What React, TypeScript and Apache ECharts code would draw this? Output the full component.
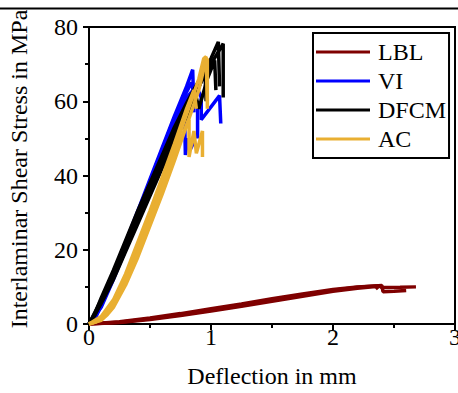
import React, { useEffect, useRef } from "react";
import * as echarts from "echarts";

// ---- Data (deflection in mm, interlaminar shear stress in MPa) ----
const groupNames = ["LBL", "VI", "DFCM", "AC"];
const groupColors = ["#7F0000", "#0000FF", "#000000", "#E9AF32"];

const LBL_1 = [[0,0],[0.25,0.5],[0.5,1.4],[0.75,2.5],[1.0,3.7],[1.25,5.0],[1.5,6.4],[1.75,7.8],[2.0,9.1],[2.2,9.9],[2.4,10.4],[2.41,8.7],[2.5,8.8],[2.6,9.0]];
const LBL_2 = [[0,0],[0.25,0.6],[0.5,1.6],[0.75,2.8],[1.0,4.1],[1.25,5.4],[1.5,6.8],[1.75,8.1],[2.0,9.3],[2.2,10.0],[2.38,10.3],[2.4,9.8],[2.55,9.9],[2.68,10.0]];
const LBL_3 = [[0,0],[0.25,0.4],[0.5,1.2],[0.75,2.3],[1.0,3.5],[1.25,4.8],[1.5,6.1],[1.75,7.5],[2.0,8.8],[2.2,9.6],[2.35,10.1],[2.37,9.4]];

const VI_1 = [[0,0],[0.05,2],[0.1,5.5],[0.2,13.5],[0.3,22],[0.4,30.5],[0.5,39],[0.6,47.5],[0.7,56],[0.8,64],[0.85,68.5],[0.86,57]];
const VI_2 = [[0,0],[0.05,1.5],[0.1,5],[0.2,12.5],[0.3,21],[0.4,29.5],[0.5,38],[0.6,46.5],[0.7,55],[0.78,61.5],[0.79,45.5],[0.81,50],[0.83,47],[0.86,49]];
const VI_3 = [[0,0],[0.1,4.5],[0.2,12],[0.3,20],[0.4,28.5],[0.5,37],[0.6,45.5],[0.7,54],[0.8,61],[0.88,64],[0.92,61],[0.92,55],[1.07,61.5],[1.08,54]];
const VI_4 = [[0,0],[0.1,5],[0.2,13],[0.3,21.5],[0.4,30],[0.5,38.5],[0.6,47],[0.7,55.5],[0.8,62.5],[0.84,65],[0.89,58],[0.89,50]];

const DFCM_1 = [[0,0],[0.05,3],[0.1,7],[0.2,14.5],[0.3,22.5],[0.4,30.5],[0.5,38],[0.6,45.5],[0.7,53],[0.8,59.5],[0.9,65.5],[1.0,71.5],[1.06,76],[1.07,64]];
const DFCM_2 = [[0,0],[0.05,2.5],[0.1,6],[0.2,13],[0.3,20.5],[0.4,28],[0.5,35.5],[0.6,43],[0.7,50.5],[0.8,57.5],[0.9,64],[1.0,70],[1.1,75.5],[1.1,61]];
const DFCM_3 = [[0,0],[0.1,5.5],[0.2,12],[0.3,19.5],[0.4,27],[0.5,34.5],[0.6,42],[0.7,49],[0.8,56],[0.88,61],[0.9,58],[0.97,66],[1.03,71],[1.04,63]];
const DFCM_4 = [[0,0],[0.1,6.5],[0.2,13.5],[0.3,21.5],[0.4,29.5],[0.5,37],[0.6,44.5],[0.7,52],[0.78,58],[0.8,55],[0.88,62],[0.95,68],[0.96,60]];

const AC_1 = [[0,0],[0.05,0.5],[0.1,1.5],[0.15,3.5],[0.2,6],[0.25,9],[0.3,12.5],[0.4,20.5],[0.5,29],[0.6,38],[0.7,47],[0.8,56.5],[0.9,66],[0.94,71.5],[0.96,72],[0.97,60]];
const AC_2 = [[0,0],[0.1,1],[0.15,2.5],[0.2,4.5],[0.25,7.5],[0.3,10.5],[0.4,18],[0.5,26.5],[0.6,35],[0.7,44],[0.8,53.5],[0.9,63],[0.95,70],[0.97,71.5],[0.97,58]];
const AC_3 = [[0,0],[0.1,1.2],[0.2,5],[0.3,11],[0.4,19],[0.5,27.5],[0.6,36.5],[0.7,45.5],[0.78,52],[0.82,55],[0.82,45],[0.86,52],[0.88,46],[0.93,52],[0.93,45]];
const AC_4 = [[0,0],[0.1,2],[0.2,6.5],[0.3,13.5],[0.4,22],[0.5,30.5],[0.6,39.5],[0.7,48.5],[0.8,58],[0.86,63],[0.88,58]];

const groups = [
  [LBL_1, LBL_2, LBL_3],
  [VI_1, VI_2, VI_3, VI_4],
  [DFCM_1, DFCM_2, DFCM_3, DFCM_4],
  [AC_1, AC_2, AC_3, AC_4],
];

const xTicks = { min: 0, max: 3, interval: 1 };
const yTicks = { min: 0, max: 80, interval: 20 };

const FONT = "Liberation Serif";

export default function App() {
  const ref = useRef<HTMLDivElement>(null);
  useEffect(() => {
    if (!ref.current) return;
    const chart = echarts.init(ref.current, null, { renderer: "svg" });
    const series: any[] = [];
    groups.forEach((specs, gi) => {
      specs.forEach((d) => {
        series.push({
          type: "line",
          name: groupNames[gi],
          data: d,
          showSymbol: false,
          symbol: "none",
          lineStyle: { color: groupColors[gi], width: 3.5 },
          itemStyle: { color: groupColors[gi] },
          z: 2 + gi,
        });
      });
    });
    const axisCommon = {
      axisLine: { show: true, lineStyle: { color: "#000", width: 2 } },
      axisTick: { show: true, inside: false, length: 6, lineStyle: { color: "#000", width: 2 } },
      minorTick: { show: true, splitNumber: 2, length: 4, lineStyle: { color: "#000", width: 2 } },
      splitLine: { show: false },
    };
    const labelStyle = { color: "#000", fontSize: 24, fontFamily: FONT };
    chart.setOption({
      animation: false,
      backgroundColor: "#fff",
      textStyle: { fontFamily: FONT },
      grid: {
        left: 89,
        top: 27,
        right: 3,
        bottom: 69,
        show: true,
        borderColor: "#000",
        borderWidth: 2,
        containLabel: false,
        outerBoundsMode: "none",
      },
      legend: {
        data: groupNames,
        orient: "vertical",
        left: 313,
        top: 33,
        icon: "rect",
        itemWidth: 54,
        itemHeight: 3,
        itemGap: 5,
        padding: [7, 3, 7, 3],
        borderColor: "#000",
        borderWidth: 2,
        backgroundColor: "#fff",
        textStyle: { color: "#000", fontSize: 24, fontFamily: FONT, padding: [0, 0, 0, 3] },
      },
      xAxis: {
        type: "value",
        ...xTicks,
        ...axisCommon,
        axisLabel: { ...labelStyle, margin: 1 },
        name: "Deflection in mm",
        nameLocation: "middle",
        nameGap: 40,
        nameTextStyle: { ...labelStyle },
      },
      yAxis: {
        type: "value",
        ...yTicks,
        ...axisCommon,
        axisLabel: { ...labelStyle, margin: 11 },
      },
      graphic: [
        {
          type: "line",
          shape: { x1: 0, y1: 8.5, x2: 458, y2: 8.5 },
          style: { stroke: "#000", lineWidth: 2 },
        },
        {
          type: "text",
          x: 19,
          y: 169,
          rotation: Math.PI / 2,
          style: {
            text: "Interlaminar Shear Stress in MPa",
            fill: "#000",
            fontSize: 24,
            fontFamily: FONT,
            align: "center",
            verticalAlign: "middle",
          },
        },
      ],
      series,
    });
    return () => chart.dispose();
  }, []);
  return (
    <div
      ref={ref}
      style={{ position: "fixed", left: 0, top: 0, width: 458, height: 393 }}
    />
  );
}
